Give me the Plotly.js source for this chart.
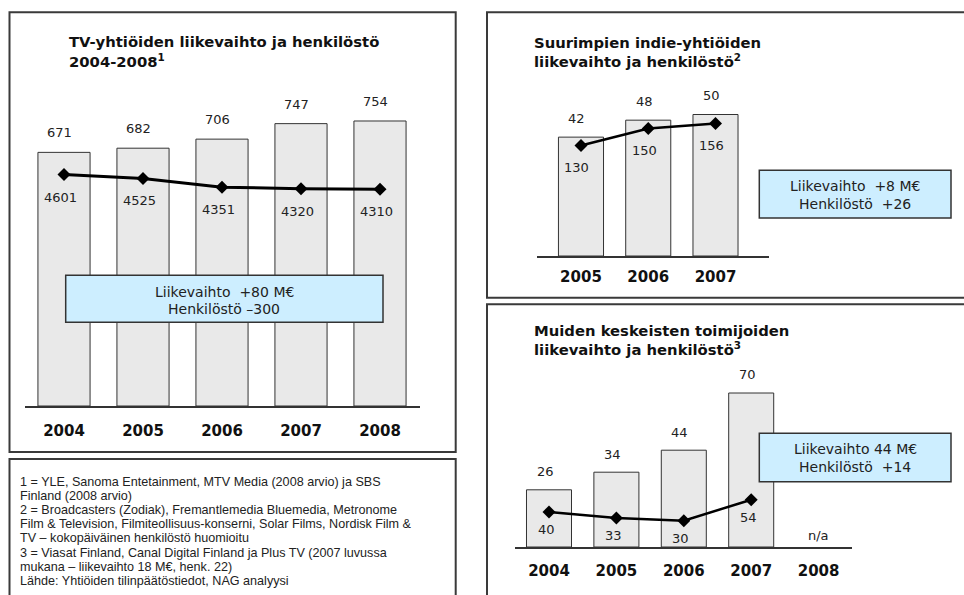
<!DOCTYPE html>
<html>
<head>
<meta charset="utf-8">
<script src="https://cdn.plot.ly/plotly-3.0.1.min.js"></script>
<style>html,body{margin:0;padding:0;background:#fff;}#chart{width:964px;height:595px;}</style>
</head>
<body>
<div id="chart"></div>
<script>
// ---------- data ----------
const tvYears = ['2004', '2005', '2006', '2007', '2008'];
const tvRevenue = [671, 682, 706, 747, 754];
const tvStaff = [4601, 4525, 4351, 4320, 4310];

const indieYears = ['2005', '2006', '2007'];
const indieRevenue = [42, 48, 50];
const indieStaff = [130, 150, 156];

const otherYears = ['2004', '2005', '2006', '2007', '2008'];
const otherRevenue = [26, 34, 44, 70, null];
const otherStaff = [40, 33, 30, 54, null];
const otherMissingLabel = 'n/a';

const tvTitle = ['TV-yhtiöiden liikevaihto ja henkilöstö', '2004-2008<sup>1</sup>'];
const indieTitle = ['Suurimpien indie-yhtiöiden', 'liikevaihto ja henkilöstö<sup>2</sup>'];
const otherTitle = ['Muiden keskeisten toimijoiden', 'liikevaihto ja henkilöstö<sup>3</sup>'];

const tvBox = ['Liikevaihto\u00a0 +80 M€', 'Henkilöstö –300'];
const indieBox = ['Liikevaihto\u00a0 +8 M€', 'Henkilöstö\u00a0 +26'];
const otherBox = ['Liikevaihto 44 M€', 'Henkilöstö\u00a0 +14'];

const notes = [
  '1 = YLE, Sanoma Entetainment, MTV Media (2008 arvio) ja SBS',
  'Finland (2008 arvio)',
  '2 = Broadcasters (Zodiak), Fremantlemedia Bluemedia, Metronome',
  'Film & Television, Filmiteollisuus-konserni, Solar Films, Nordisk Film &',
  'TV – kokopäiväinen henkilöstö huomioitu',
  '3 = Viasat Finland, Canal Digital Finland ja Plus TV (2007 luvussa',
  'mukana – liikevaihto 18 M€, henk. 22)',
  'Lähde: Yhtiöiden tilinpäätöstiedot, NAG analyysi'
];

// ---------- helpers ----------
const W = 964, H = 595;
const px = x => x / W;
const py = y => 1 - y / H;
const FONT = 'DejaVu Sans';
const DARK = '#333333';
const BAR_FILL = '#e9e9e9';
const BOX_FILL = '#cdeeff';

function barTrace(x, y, xa, ya, w) {
  return {type: 'bar', x: x, y: y, xaxis: xa, yaxis: ya, width: w,
    marker: {color: BAR_FILL, line: {color: DARK, width: 1}}, hoverinfo: 'skip'};
}
function lineTrace(x, y, xa, ya, lw) {
  return {type: 'scatter', mode: 'lines+markers', x: x, y: y, xaxis: xa, yaxis: ya,
    line: {color: '#000', width: lw}, marker: {symbol: 'diamond', size: 10, color: '#000'},
    connectgaps: false, hoverinfo: 'skip'};
}

const data = [
  barTrace(tvYears, tvRevenue, 'x', 'y', 0.66),
  lineTrace(tvYears, tvStaff, 'x', 'y2', 3),
  barTrace(indieYears, indieRevenue, 'x2', 'y3', 0.67),
  lineTrace(indieYears, indieStaff, 'x2', 'y4', 2.5),
  barTrace(otherYears, otherRevenue, 'x3', 'y5', 0.668),
  lineTrace(otherYears, otherStaff, 'x3', 'y6', 2.5)
];

function xAxis(x0, x1, range, yanchor, ticklen) {
  return {domain: [px(x0), px(x1)], range: range, type: 'category', anchor: yanchor,
    showline: true, linecolor: DARK, linewidth: 1.5, showgrid: false, zeroline: false,
    ticks: 'outside', ticklen: ticklen, tickcolor: 'rgba(0,0,0,0)',
    tickfont: {family: FONT, size: 15, color: '#111', weight: 'bold'}, fixedrange: true};
}
function yAxis(base, top, range, xanchor, overlay) {
  const a = {range: range, visible: false, showgrid: false, zeroline: false, anchor: xanchor, fixedrange: true};
  if (overlay) { a.overlaying = overlay; a.side = 'right'; }
  else { a.domain = [py(base), py(top)]; }
  return a;
}

const annotations = [];
const shapes = [];

// category axes: annotations are placed by category index
function valueLabels(xs, vals, xa, ya, yshift, xshift) {
  xs.forEach((c, i) => {
    if (vals[i] === null) return;
    annotations.push({xref: xa, yref: ya, x: i, y: vals[i], text: String(vals[i]),
      showarrow: false, yanchor: 'middle', xanchor: 'center', yshift: yshift, xshift: xshift,
      font: {family: FONT, size: 13, color: '#222'}});
  });
}
function titleLines(lines, x, y0, dy) {
  lines.forEach((t, i) => {
    annotations.push({xref: 'paper', yref: 'paper', x: px(x), y: py(y0 + i * dy), text: t,
      showarrow: false, xanchor: 'left', yanchor: 'middle',
      font: {family: FONT, size: 14.8, color: '#111', weight: 'bold'}});
  });
}
function infoBox(lines, x0, y0, x1, y1, ty0, tdy) {
  shapes.push({type: 'rect', xref: 'paper', yref: 'paper', x0: px(x0), x1: px(x1), y0: py(y1), y1: py(y0),
    fillcolor: BOX_FILL, line: {color: DARK, width: 1.5}, layer: 'above'});
  lines.forEach((t, i) => {
    annotations.push({xref: 'paper', yref: 'paper', x: px((x0 + x1) / 2), y: py(ty0 + i * tdy),
      text: t, showarrow: false, xanchor: 'center', yanchor: 'middle',
      font: {family: FONT, size: 14, color: '#222'}});
  });
}
function panel(x0, y0, x1, y1) {
  shapes.push({type: 'rect', xref: 'paper', yref: 'paper', x0: px(x0), x1: px(x1), y0: py(y1), y1: py(y0),
    fillcolor: 'rgba(0,0,0,0)', line: {color: '#3a3a3a', width: 2}, layer: 'above'});
}

// TV chart (left)
valueLabels(tvYears, tvRevenue, 'x', 'y', 19.5, -5);
valueLabels(tvYears, tvStaff, 'x', 'y2', -22.5, -4);
titleLines(tvTitle, 67, 41.7, 18.6);
infoBox(tvBox, 65.7, 275.3, 383, 322.3, 292.3, 16.4);

// indie chart (top right)
valueLabels(indieYears, indieRevenue, 'x2', 'y3', 18.5, -4);
valueLabels(indieYears, indieStaff, 'x2', 'y4', -22, -4);
titleLines(indieTitle, 531.5, 42.3, 18);
infoBox(indieBox, 759.3, 170.3, 951, 218, 185.7, 18);

// other chart (bottom right)
valueLabels(otherYears, otherRevenue, 'x3', 'y5', 18, -4);
valueLabels(otherYears, otherStaff, 'x3', 'y6', -17.5, -3);
otherYears.forEach((c, i) => {
  if (otherRevenue[i] === null) {
    annotations.push({xref: 'x3', yref: 'y5', x: i, y: 0, text: otherMissingLabel, showarrow: false,
      yanchor: 'middle', yshift: 11.5, font: {family: FONT, size: 13, color: '#222'}});
  }
});
titleLines(otherTitle, 531.5, 330, 18.3);
infoBox(otherBox, 759.3, 433.3, 951, 481.7, 449, 18);

// notes
notes.forEach((t, i) => {
  annotations.push({xref: 'paper', yref: 'paper', x: px(18), y: py(481.5 + i * 14.2), text: t,
    showarrow: false, xanchor: 'left', yanchor: 'middle',
    font: {family: 'Liberation Sans', size: 12.6, color: '#222'}});
});

// panels
panel(9.5, 12.3, 455.7, 452);
panel(9.5, 459, 455.7, 600);
panel(487, 12.3, 970, 297.7);
panel(487, 304.3, 970, 600);

const layout = {
  width: W, height: H, margin: {l: 0, r: 0, t: 0, b: 0, pad: 0},
  paper_bgcolor: '#fff', plot_bgcolor: 'rgba(0,0,0,0)', showlegend: false,
  xaxis: xAxis(24.5, 419.5, [-0.5, 4.5], 'y', 10),
  yaxis: yAxis(406, 100, [0, 306 / 0.378], 'x'),
  yaxis2: yAxis(406, 100, [0, 306 / 0.0503], 'x', 'y'),
  xaxis2: xAxis(537, 769.3, [-0.654, 2.8], 'y3', 6),
  yaxis3: yAxis(256, 80, [0, 176 / 2.83], 'x2'),
  yaxis4: yAxis(256, 80, [0, 176 / 0.85], 'x2', 'y3'),
  xaxis3: xAxis(515.3, 852.3, [-0.5, 4.5], 'y5', 9),
  yaxis5: yAxis(547, 380, [0, 167 / 2.2], 'x3'),
  yaxis6: yAxis(547, 380, [0, 167 / 0.876], 'x3', 'y5'),
  annotations: annotations,
  shapes: shapes
};

Plotly.newPlot('chart', data, layout, {displayModeBar: false, staticPlot: true});
</script>
</body>
</html>
